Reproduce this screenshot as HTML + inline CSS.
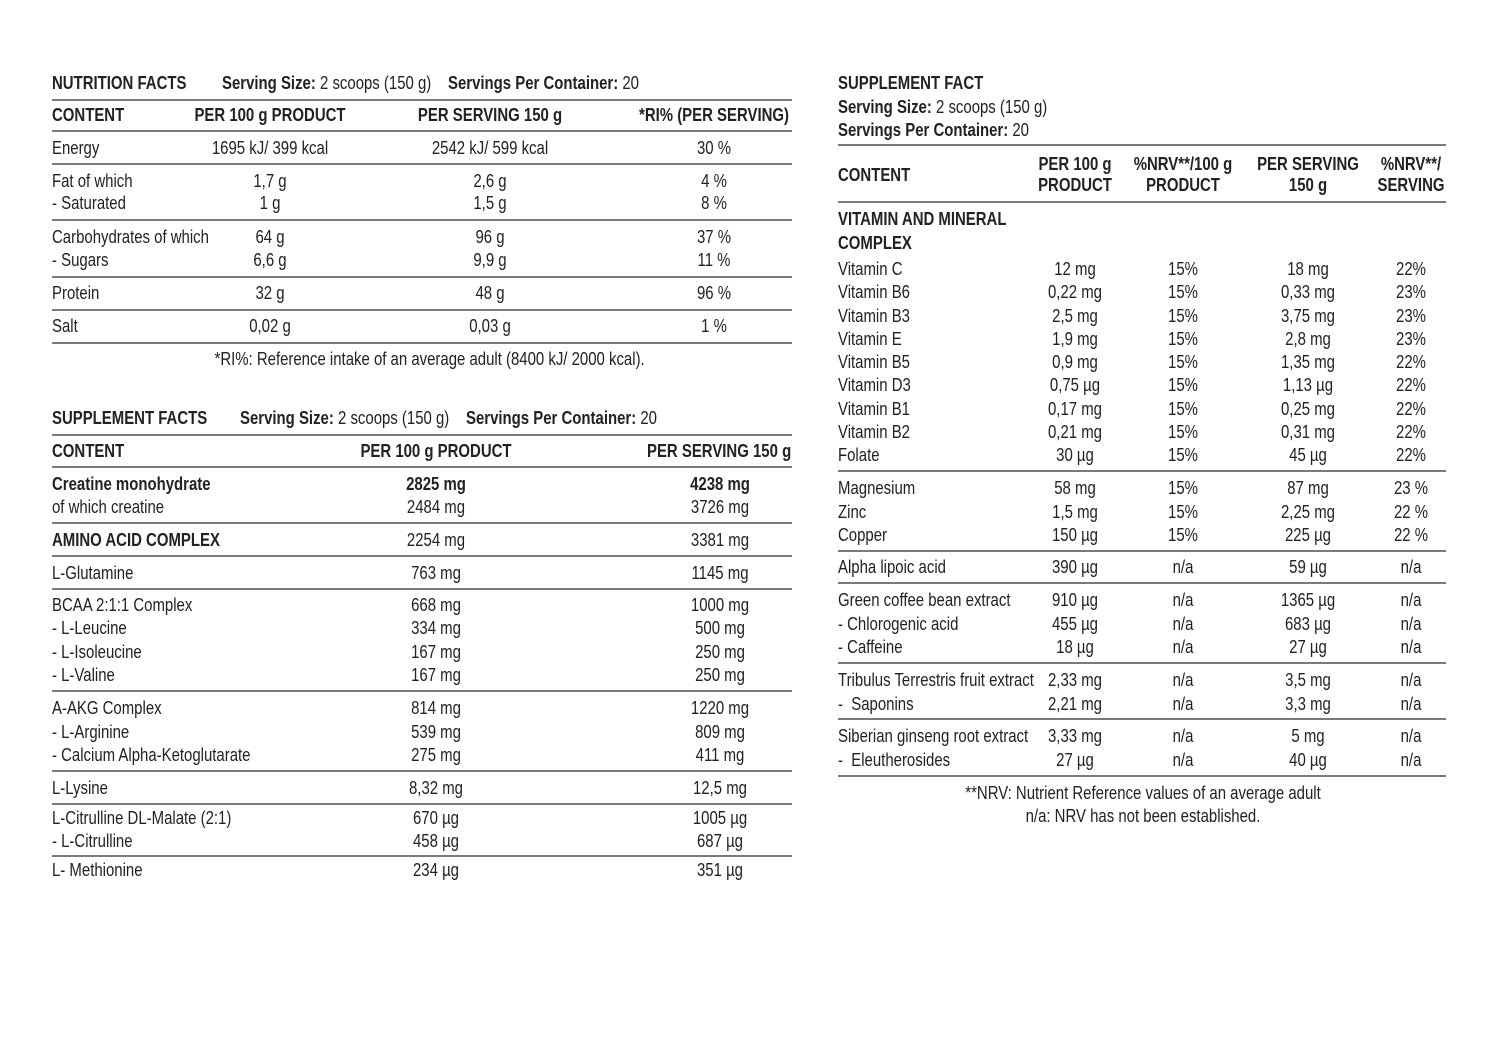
<!DOCTYPE html><html><head><meta charset="utf-8"><style>
body{margin:0;width:1500px;height:1039px;background:#fff;position:relative;overflow:hidden;font-family:"Liberation Sans Narrow","Liberation Sans",sans-serif;color:#222;font-size:18px}
div.t{position:absolute;line-height:22px;white-space:nowrap;transform:scaleX(0.83);transform-origin:0 0}
div.c{position:absolute;line-height:22px;white-space:nowrap;width:240px;text-align:center;transform:scaleX(0.83);transform-origin:50% 0}
b{font-weight:bold}
.l{position:absolute;height:2px;background:#7a7a7a}
</style></head><body>
<!-- LEFT TABLE 1 -->
<div class="t" style="left:52px;top:72px"><b>NUTRITION FACTS</b></div>
<div class="t" style="left:222px;top:72px"><b>Serving Size:</b> 2 scoops (150 g)</div>
<div class="t" style="left:448px;top:72px"><b>Servings Per Container:</b> 20</div>
<div class="l" style="left:52px;width:740px;top:99px"></div>
<div class="t" style="left:52px;top:104px"><b>CONTENT</b></div>
<div class="c" style="left:150px;top:104px"><b>PER 100 g PRODUCT</b></div>
<div class="c" style="left:370px;top:104px"><b>PER SERVING 150 g</b></div>
<div class="c" style="left:594px;top:104px"><b>*RI% (PER SERVING)</b></div>
<div class="l" style="left:52px;width:740px;top:130px"></div>
<div class="t" style="left:52px;top:137px">Energy</div><div class="c" style="left:150px;top:137px">1695 kJ/ 399 kcal</div><div class="c" style="left:370px;top:137px">2542 kJ/ 599 kcal</div><div class="c" style="left:594px;top:137px">30 %</div>
<div class="l" style="left:52px;width:740px;top:163px"></div>
<div class="t" style="left:52px;top:170px">Fat of which<br>- Saturated</div><div class="c" style="left:150px;top:170px">1,7 g<br>1 g</div><div class="c" style="left:370px;top:170px">2,6 g<br>1,5 g</div><div class="c" style="left:594px;top:170px">4 %<br>8 %</div>
<div class="l" style="left:52px;width:740px;top:219px"></div>
<div class="t" style="left:52px;top:226px;line-height:23px">Carbohydrates of which<br>- Sugars</div><div class="c" style="left:150px;top:226px;line-height:23px">64 g<br>6,6 g</div><div class="c" style="left:370px;top:226px;line-height:23px">96 g<br>9,9 g</div><div class="c" style="left:594px;top:226px;line-height:23px">37 %<br>11 %</div>
<div class="l" style="left:52px;width:740px;top:276px"></div>
<div class="t" style="left:52px;top:282px">Protein</div><div class="c" style="left:150px;top:282px">32 g</div><div class="c" style="left:370px;top:282px">48 g</div><div class="c" style="left:594px;top:282px">96 %</div>
<div class="l" style="left:52px;width:740px;top:309px"></div>
<div class="t" style="left:52px;top:315px">Salt</div><div class="c" style="left:150px;top:315px">0,02 g</div><div class="c" style="left:370px;top:315px">0,03 g</div><div class="c" style="left:594px;top:315px">1 %</div>
<div class="l" style="left:52px;width:740px;top:342px"></div>
<div class="c" style="left:172px;top:348px;width:500px">*RI%: Reference intake of an average adult (8400 kJ/ 2000 kcal).</div>
<!-- LEFT TABLE 2 -->
<div class="t" style="left:52px;top:407px"><b>SUPPLEMENT FACTS</b></div>
<div class="t" style="left:240px;top:407px"><b>Serving Size:</b> 2 scoops (150 g)</div>
<div class="t" style="left:466px;top:407px"><b>Servings Per Container:</b> 20</div>
<div class="l" style="left:52px;width:740px;top:434px"></div>
<div class="t" style="left:52px;top:440px"><b>CONTENT</b></div>
<div class="c" style="left:316px;top:440px"><b>PER 100 g PRODUCT</b></div>
<div class="t" style="left:647px;top:440px"><b>PER SERVING 150 g</b></div>
<div class="l" style="left:52px;width:740px;top:466px"></div>
<div class="t" style="left:52px;top:473px;line-height:23px"><b>Creatine monohydrate</b><br>of which creatine</div><div class="c" style="left:316px;top:473px;line-height:23px"><b>2825 mg</b><br>2484 mg</div><div class="c" style="left:600px;top:473px;line-height:23px"><b>4238 mg</b><br>3726 mg</div>
<div class="l" style="left:52px;width:740px;top:522px"></div>
<div class="t" style="left:52px;top:529px"><b>AMINO ACID COMPLEX</b></div><div class="c" style="left:316px;top:529px">2254 mg</div><div class="c" style="left:600px;top:529px">3381 mg</div>
<div class="l" style="left:52px;width:740px;top:555px"></div>
<div class="t" style="left:52px;top:562px">L-Glutamine</div><div class="c" style="left:316px;top:562px">763 mg</div><div class="c" style="left:600px;top:562px">1145 mg</div>
<div class="l" style="left:52px;width:740px;top:588px"></div>
<div class="t" style="left:52px;top:594px;line-height:23.3px">BCAA 2:1:1 Complex<br>- L-Leucine<br>- L-Isoleucine<br>- L-Valine</div><div class="c" style="left:316px;top:594px;line-height:23.3px">668 mg<br>334 mg<br>167 mg<br>167 mg</div><div class="c" style="left:600px;top:594px;line-height:23.3px">1000 mg<br>500 mg<br>250 mg<br>250 mg</div>
<div class="l" style="left:52px;width:740px;top:690px"></div>
<div class="t" style="left:52px;top:697px;line-height:23.5px">A-AKG Complex<br>- L-Arginine<br>- Calcium Alpha-Ketoglutarate</div><div class="c" style="left:316px;top:697px;line-height:23.5px">814 mg<br>539 mg<br>275 mg</div><div class="c" style="left:600px;top:697px;line-height:23.5px">1220 mg<br>809 mg<br>411 mg</div>
<div class="l" style="left:52px;width:740px;top:770px"></div>
<div class="t" style="left:52px;top:777px">L-Lysine</div><div class="c" style="left:316px;top:777px">8,32 mg</div><div class="c" style="left:600px;top:777px">12,5 mg</div>
<div class="l" style="left:52px;width:740px;top:803px"></div>
<div class="t" style="left:52px;top:807px;line-height:23px">L-Citrulline DL-Malate (2:1)<br>- L-Citrulline</div><div class="c" style="left:316px;top:807px;line-height:23px">670 µg<br>458 µg</div><div class="c" style="left:600px;top:807px;line-height:23px">1005 µg<br>687 µg</div>
<div class="l" style="left:52px;width:740px;top:855px"></div>
<div class="t" style="left:52px;top:859px">L- Methionine</div><div class="c" style="left:316px;top:859px">234 µg</div><div class="c" style="left:600px;top:859px">351 µg</div>
<!-- RIGHT TABLE -->
<div class="t" style="left:838px;top:72px;line-height:23.5px"><b>SUPPLEMENT FACT</b><br><b>Serving Size:</b> 2 scoops (150 g)<br><b>Servings Per Container:</b> 20</div>
<div class="l" style="left:838px;width:608px;top:144px"></div>
<div class="t" style="left:838px;top:164px"><b>CONTENT</b></div>
<div class="c" style="left:955px;top:154px;line-height:21px"><b>PER 100 g<br>PRODUCT</b></div>
<div class="c" style="left:1063px;top:154px;line-height:21px"><b>%NRV**/100 g<br>PRODUCT</b></div>
<div class="c" style="left:1188px;top:154px;line-height:21px"><b>PER SERVING<br>150 g</b></div>
<div class="c" style="left:1291px;top:154px;line-height:21px"><b>%NRV**/<br>SERVING</b></div>
<div class="l" style="left:838px;width:608px;top:201px"></div>
<div class="t" style="left:838px;top:207px;line-height:24px"><b>VITAMIN AND MINERAL<br>COMPLEX</b></div>
<div class="t" style="left:838px;top:258px;line-height:23.25px">Vitamin C<br>Vitamin B6<br>Vitamin B3<br>Vitamin E<br>Vitamin B5<br>Vitamin D3<br>Vitamin B1<br>Vitamin B2<br>Folate</div>
<div class="c" style="left:955px;top:258px;line-height:23.25px">12 mg<br>0,22 mg<br>2,5 mg<br>1,9 mg<br>0,9 mg<br>0,75 µg<br>0,17 mg<br>0,21 mg<br>30 µg</div>
<div class="c" style="left:1063px;top:258px;line-height:23.25px">15%<br>15%<br>15%<br>15%<br>15%<br>15%<br>15%<br>15%<br>15%</div>
<div class="c" style="left:1188px;top:258px;line-height:23.25px">18 mg<br>0,33 mg<br>3,75 mg<br>2,8 mg<br>1,35 mg<br>1,13 µg<br>0,25 mg<br>0,31 mg<br>45 µg</div>
<div class="c" style="left:1291px;top:258px;line-height:23.25px">22%<br>23%<br>23%<br>23%<br>22%<br>22%<br>22%<br>22%<br>22%</div>
<div class="l" style="left:838px;width:608px;top:470px"></div>
<div class="t" style="left:838px;top:477px;line-height:23.5px">Magnesium<br>Zinc<br>Copper</div><div class="c" style="left:955px;top:477px;line-height:23.5px">58 mg<br>1,5 mg<br>150 µg</div><div class="c" style="left:1063px;top:477px;line-height:23.5px">15%<br>15%<br>15%</div><div class="c" style="left:1188px;top:477px;line-height:23.5px">87 mg<br>2,25 mg<br>225 µg</div><div class="c" style="left:1291px;top:477px;line-height:23.5px">23 %<br>22 %<br>22 %</div>
<div class="l" style="left:838px;width:608px;top:550px"></div>
<div class="t" style="left:838px;top:556px">Alpha lipoic acid</div><div class="c" style="left:955px;top:556px">390 µg</div><div class="c" style="left:1063px;top:556px">n/a</div><div class="c" style="left:1188px;top:556px">59 µg</div><div class="c" style="left:1291px;top:556px">n/a</div>
<div class="l" style="left:838px;width:608px;top:582px"></div>
<div class="t" style="left:838px;top:589px;line-height:23.5px">Green coffee bean extract<br>- Chlorogenic acid<br>- Caffeine</div><div class="c" style="left:955px;top:589px;line-height:23.5px">910 µg<br>455 µg<br>18 µg</div><div class="c" style="left:1063px;top:589px;line-height:23.5px">n/a<br>n/a<br>n/a</div><div class="c" style="left:1188px;top:589px;line-height:23.5px">1365 µg<br>683 µg<br>27 µg</div><div class="c" style="left:1291px;top:589px;line-height:23.5px">n/a<br>n/a<br>n/a</div>
<div class="l" style="left:838px;width:608px;top:662px"></div>
<div class="t" style="left:838px;top:669px;line-height:23.5px">Tribulus Terrestris fruit extract<br>-&nbsp; Saponins</div><div class="c" style="left:955px;top:669px;line-height:23.5px">2,33 mg<br>2,21 mg</div><div class="c" style="left:1063px;top:669px;line-height:23.5px">n/a<br>n/a</div><div class="c" style="left:1188px;top:669px;line-height:23.5px">3,5 mg<br>3,3 mg</div><div class="c" style="left:1291px;top:669px;line-height:23.5px">n/a<br>n/a</div>
<div class="l" style="left:838px;width:608px;top:718px"></div>
<div class="t" style="left:838px;top:725px;line-height:23.5px">Siberian ginseng root extract<br>-&nbsp; Eleutherosides</div><div class="c" style="left:955px;top:725px;line-height:23.5px">3,33 mg<br>27 µg</div><div class="c" style="left:1063px;top:725px;line-height:23.5px">n/a<br>n/a</div><div class="c" style="left:1188px;top:725px;line-height:23.5px">5 mg<br>40 µg</div><div class="c" style="left:1291px;top:725px;line-height:23.5px">n/a<br>n/a</div>
<div class="l" style="left:838px;width:608px;top:775px"></div>
<div class="c" style="left:923px;top:782px;width:440px;line-height:23px">**NRV: Nutrient Reference values of an average adult<br>n/a: NRV has not been established.</div>
</body></html>
